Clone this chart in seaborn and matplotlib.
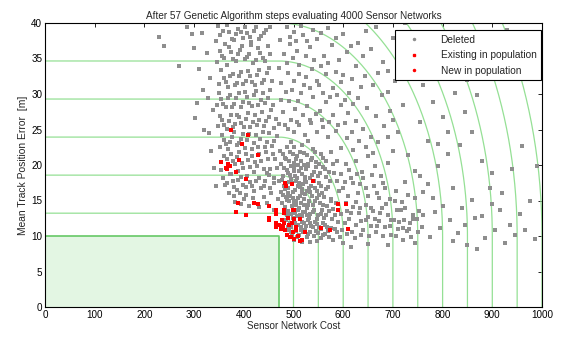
import numpy as np
import pandas as pd
import matplotlib
matplotlib.use("Agg")
import matplotlib.pyplot as plt
import seaborn as sns
from matplotlib.lines import Line2D

# ---------------- data ----------------
title = "After 57 Genetic Algorithm steps evaluating 4000 Sensor Networks"
x_label = "Sensor Network Cost"
y_label = "Mean Track Position Error  [m]"
x_ticks = [0, 100, 200, 300, 400, 500, 600, 700, 800, 900, 1000]
y_ticks = [0, 5, 10, 15, 20, 25, 30, 35, 40]

goal_cost = 470
goal_error = 10
contour_offsets = [30, 80, 130, 180, 230, 280, 330, 380, 430, 480, 530]
contour_aspect = 9.33

deleted_core = [
(478,21.5),(485,20.8),(492,21.9),(500,20.3),(508,21.2),(515,20.6),(522,21.7),(530,20.1),(537,21.0),(545,20.4),
(481,19.6),(488,18.9),(495,19.8),(503,18.4),(511,19.2),(518,18.7),(526,19.5),(533,18.2),(541,19.0),(549,18.5),
(476,17.9),(483,16.6),(490,17.6),(498,16.2),(505,17.8),(513,16.9),(520,17.3),(528,16.4),(535,17.1),(543,16.7),(551,17.5),(558,16.1),
(479,15.8),(486,15.1),(493,15.6),(501,14.8),(509,15.4),(516,14.6),(524,15.9),(531,15.0),(539,14.4),(547,15.3),(554,14.7),(562,15.5),
(482,14.1),(489,13.5),(496,14.2),(504,13.2),(512,13.9),(519,13.4),(527,14.0),(534,13.1),(542,13.7),(550,12.9),(557,13.6),(565,13.0),
(485,12.3),(492,11.9),(499,12.6),(507,11.6),(514,12.4),(521,11.8),(529,12.2),(536,11.4),(544,12.0),(552,11.3),(560,11.9),(568,11.2),
(490,10.8),(497,10.2),(505,10.7),(512,10.1),(520,10.5),(527,9.9),(534,10.6),(541,10.0),(549,10.4),(556,9.7),(564,10.3),(572,9.8),
(502,9.4),(518,9.2),(533,9.1),(548,9.3),
(488,16.0),(494,18.0),(502,19.1),(510,17.0),(517,16.1),(524,17.9),(531,16.8),(506,15.0),(513,13.0),(521,14.3),(528,12.9),
(499,13.7),(507,12.8),(515,11.2),(523,10.9),(510,20.0),(502,22.5),(495,23.2),(517,22.8),(530,23.4),(486,22.6),(540,22.3),
(555,21.5),(560,19.7),(566,18.3),(570,16.9),(575,15.2),(580,13.8),(578,12.4),(584,11.0),(590,12.0),(586,14.6),(592,16.3),
(595,13.1),(598,10.8),(603,11.9),(607,13.5),(612,12.4),(617,10.6),(620,14.1),(625,11.6),(631,13.2),(636,12.1),(640,10.9),
(645,14.3),(650,12.7),(655,11.4),(660,13.5),(666,10.5),(672,12.1),(678,14.0),(684,11.2),(690,13.0),(697,10.2),(703,12.3),
(710,11.0),(716,13.6),(722,12.2),(728,10.7),(735,11.9),(741,13.0),(748,12.4),(600,16.8),(610,15.6),(620,17.4),(630,16.0),
(640,18.2),(650,15.7),(662,17.0),(673,15.4),(685,16.7),(695,15.2),(706,16.3),(718,14.8),(612,19.3),(625,20.5),(638,19.0),
(650,21.2),(663,19.8),(676,18.5),(690,20.3),(582,18.9),(588,20.6),(575,21.8),(596,22.4),(608,23.8),(620,22.1),(570,23.9),
(585,24.8),(560,25.3),(548,24.6),(536,25.9),(524,24.2),(512,25.6),(500,24.7),(488,25.1),
]

deleted_core_2 = [
(474,20.2),(483,21.0),(491,20.5),(499,21.6),(506,20.9),(513,21.8),(521,20.0),(528,21.4),(536,20.7),(544,21.9),(552,20.2),(560,21.0),
(478,18.4),(486,19.3),(493,18.6),(500,19.7),(508,18.1),(515,19.6),(523,18.3),(530,19.9),(538,18.6),(546,19.7),(554,18.9),(563,19.4),
(474,16.2),(481,17.1),(489,16.8),(496,17.5),(503,16.5),(511,17.4),(518,16.6),(526,17.6),(533,16.2),(541,17.8),(548,16.3),(556,17.0),(565,16.6),(573,17.8),
(477,14.6),(484,15.5),(491,14.9),(498,15.3),(506,14.3),(513,15.7),(521,15.2),(529,14.4),(537,15.6),(544,14.9),(552,15.8),(559,14.4),(567,14.2),(576,14.9),
(487,13.0),(494,13.1),(501,12.3),(509,13.6),(517,12.8),(524,13.4),(532,12.5),(539,13.4),(547,12.4),(555,13.1),(562,12.6),(571,13.5),(583,12.9),
(488,11.2),(495,11.3),(503,11.9),(510,11.5),(518,12.0),(525,11.4),(533,11.9),(540,11.2),(547,11.7),(555,11.0),(563,11.6),(575,11.1),(588,10.5),
(495,10.5),(508,9.8),(516,10.8),(530,10.3),(545,10.7),(560,10.1),(570,10.7),(580,9.5),(593,9.9),
(565,20.6),(572,19.0),(580,20.2),(587,17.7),(595,18.7),(603,17.6),(606,20.2),(615,18.1),(628,18.8),(634,17.3),(645,16.8),(657,18.6),(668,16.0),(680,17.4),
(605,14.6),(615,13.3),(626,14.8),(634,13.9),(646,12.2),(655,13.9),(663,12.4),(675,13.2),(687,14.5),(696,12.2),(708,13.7),(713,12.0),(725,13.9),(732,11.0),(740,12.4),(752,13.5),(758,11.3),
(608,10.3),(623,9.7),(636,10.1),(652,10.0),(668,11.4),(680,10.0),(694,11.4),(707,10.0),(720,11.1),(737,9.8),(750,10.6),
]

deleted_band = [
(362,17.2),(370,16.1),(378,17.8),(386,16.5),(395,18.3),(404,16.9),(412,17.6),(421,16.3),(430,18.1),(440,17.0),(450,18.6),(460,17.4),
(355,19.3),(366,20.8),(374,21.6),(382,20.1),(391,21.9),(399,19.6),(408,20.7),(417,21.3),(426,19.9),(435,20.5),(444,21.8),(453,19.4),(463,20.9),
(352,22.6),(360,23.5),(369,22.2),(377,24.0),(386,22.8),(394,23.7),(403,22.4),(411,24.3),(420,23.1),(429,22.5),(438,24.6),(447,23.3),(456,22.7),(466,24.1),
(348,25.5),(357,26.4),(366,25.1),(374,27.0),(383,25.8),(391,26.7),(400,25.3),(409,27.3),(418,26.0),(427,25.6),(436,27.5),(445,26.2),(455,27.8),(464,26.5),
(346,28.4),(355,29.3),(364,28.1),(373,29.8),(381,28.6),(390,30.2),(398,28.9),(407,29.6),(416,28.3),(425,30.4),(434,29.1),(443,28.7),(453,30.6),
(350,31.4),(360,32.2),(369,31.0),(378,32.8),(387,31.6),(395,33.1),(404,31.9),(413,32.5),(422,31.2),(431,33.4),(441,32.0),(451,33.6),
(347,34.5),(357,35.3),(366,34.1),(375,35.9),(384,34.7),(393,36.2),(402,34.9),(410,35.6),(419,34.3),(428,36.5),(438,35.0),(448,36.8),
(344,37.4),(353,38.3),(362,37.1),(371,38.8),(380,37.6),(389,39.2),(398,37.9),(406,38.6),(415,37.3),(424,39.5),(434,38.1),(445,39.0),
(392,16.0),(400,15.2),(383,14.8),(410,14.2),(440,15.5),(455,16.0),(468,15.2),(372,18.8),(388,19.2),(420,19.0),(446,18.9),
(230,38.0),(240,36.8),(270,34.0),(300,36.5),(310,33.5),(305,28.8),(302,26.6),(318,30.5),(320,25.0),(330,24.5),(335,22.0),
(340,19.6),(332,32.3),(325,35.8),(315,38.6),(295,38.4),(285,39.5),(338,27.7),(328,29.4),(345,17.0),
]

deleted_band_2 = [
(358,18.1),(367,17.4),(375,18.7),(381,16.9),(389,17.9),(398,17.2),(407,18.4),(416,17.0),(425,17.8),(434,16.8),(443,17.7),(452,16.7),(461,18.2),
(360,21.2),(370,19.8),(379,20.6),(387,21.1),(396,20.3),(405,21.6),(413,19.7),(422,20.4),(431,21.5),(440,19.4),(449,20.8),(458,21.6),(467,19.6),
(356,24.2),(364,22.9),(373,23.3),(381,24.6),(390,23.1),(398,24.3),(407,23.5),(416,22.3),(424,24.2),(433,23.6),(442,22.6),(451,24.5),(461,23.4),
(352,26.9),(361,25.6),(370,26.2),(378,25.3),(387,27.1),(395,25.9),(404,26.5),(413,25.4),(422,27.0),(431,26.3),(440,25.5),(450,26.8),(460,25.2),
(351,30.1),(359,28.6),(368,29.5),(377,28.2),(385,29.4),(394,28.1),(403,30.3),(411,28.7),(420,29.8),(429,28.5),(438,30.2),(448,29.5),(458,28.4),
(354,33.4),(364,31.7),(373,32.5),(382,31.2),(391,32.6),(399,31.4),(408,33.2),(417,31.7),(426,32.7),(436,31.5),(446,32.9),(456,31.8),
(352,36.1),(361,35.1),(370,36.6),(379,34.9),(388,35.6),(397,36.8),(406,35.2),(414,36.9),(424,34.8),(433,35.8),(443,34.6),(453,35.7),
(349,39.6),(358,38.9),(367,39.7),(376,37.8),(385,38.4),(394,38.8),(403,39.5),(412,38.0),(420,38.9),(430,37.7),(440,38.6),(452,39.4),
(380,15.6),(395,14.5),(405,15.8),(418,15.3),(430,14.1),(447,14.6),(460,13.6),(470,17.8),(472,22.0),(470,25.8),(474,29.2),(470,33.7),(473,37.6),
]

deleted_mid = [
(478,27.4),(490,29.0),(503,27.9),(515,30.1),(528,28.3),(540,29.6),(553,27.6),(566,28.9),(580,27.1),(595,28.5),(610,27.3),(625,26.2),(640,25.1),(655,24.0),(670,23.2),
(475,31.5),(488,33.0),(500,31.9),(512,34.1),(525,32.4),(538,33.5),(551,31.2),(565,32.8),(580,30.9),(595,31.7),(612,30.2),(630,29.4),(648,28.0),(665,26.9),(682,25.5),
(480,35.6),(493,37.1),(507,36.0),(520,38.3),(534,36.6),(548,37.8),(562,35.3),(577,36.9),(592,34.8),(608,35.9),(625,33.9),(643,32.6),(660,31.3),(678,29.8),(695,27.6),
(486,39.4),(500,38.7),(515,39.6),(540,39.0),(570,39.3),(600,38.4),(630,37.2),(655,36.3),(680,34.5),(705,31.8),(720,28.5),(710,24.6),(700,22.0),(730,21.4),(745,19.2),(725,17.6),(760,16.2),(745,15.3),
(483,25.7),(495,26.4),(507,26.0),(520,27.0),(533,26.4),(545,27.2),(558,26.4),(571,26.0),(590,25.6),(603,25.9),(617,24.6),(632,23.4),(645,22.6),(660,21.7),
(484,30.3),(497,30.6),(509,29.0),(521,31.3),(534,30.8),(547,31.9),(559,30.1),(573,29.6),(588,29.9),(603,29.1),(620,28.6),
(486,34.3),(498,35.1),(511,32.8),(526,35.3),(541,34.8),(555,33.9),(570,34.3),(585,33.1),(600,32.7),(617,32.1),(635,31.0),
(492,38.0),(505,37.5),(527,37.4),(555,38.6),(585,37.9),(615,36.7),(640,35.3),(670,33.0),(690,30.3),(700,26.3),(690,24.0),
]

deleted_sparse = [
(770,38.4),(790,35.0),(815,33.2),(740,36.3),(760,31.2),(780,28.9),(800,26.7),(825,30.1),(845,27.4),(870,29.8),(860,24.6),(835,22.8),(810,21.5),(790,19.8),(770,23.4),(755,26.1),
(880,20.6),(900,18.9),(920,16.1),(940,19.4),(960,22.7),(975,15.0),(990,19.8),(955,13.1),(935,11.5),(945,10.2),(965,10.8),(985,9.6),
(780,15.4),(800,14.2),(820,16.7),(840,13.9),(860,15.1),(880,12.8),(900,14.5),(905,10.9),(885,9.7),(870,8.2),(850,8.7),(830,10.4),(815,12.3),(795,11.1),(775,9.9),(760,12.9),(785,13.4),(820,9.3),(845,11.6),(865,12.6),(895,16.8),(915,13.7),(925,9.0),
(600,9.0),(615,8.5),(650,8.9),(690,8.7),(720,9.4),(745,9.0),(705,14.9),(730,15.8),(755,18.4),(770,17.3),(790,22.9),(810,24.7),(850,32.0),(880,35.5),(905,37.2),(930,39.0),(745,32.8),(720,35.2),(700,37.9),(690,33.3),(665,39.5),(645,38.9),(725,40.0),
]

existing_pop = [
(375,24.9),(409,24.2),(396,23.0),(429,21.4),(390,20.7),(355,20.4),(369,20.2),(372,19.9),(364,19.6),(367,19.4),(384,19.0),
(404,18.0),(483,17.4),(496,17.3),(485,17.0),(540,17.7),(389,14.7),(420,14.6),(429,14.5),(384,13.4),(404,12.9),
(450,14.2),(450,12.6),(450,12.3),(465,13.7),(465,13.1),(465,11.9),(465,11.2),(481,13.7),(481,13.2),(498,13.7),(501,13.7),
]

new_pop = [
(470,11.6),(474,11.0),(478,11.4),(482,10.8),(486,10.2),(490,11.5),(494,9.8),(498,10.6),(502,9.6),(506,11.2),(510,10.0),
(514,12.4),(518,9.4),(476,12.2),(488,12.6),(496,11.9),(492,9.9),(590,14.5),(590,13.6),(606,14.5),(555,11.1),(573,10.9),
(610,11.0),(524,10.6),(513,9.3),(505,10.9),(480,11.9),(500,12.4),
]

# ---------------- build table ----------------
deleted_all = deleted_core + deleted_core_2 + deleted_band + deleted_band_2 + deleted_mid + deleted_sparse
rows = []
for name, pts in [("Deleted", deleted_all),
                  ("Existing in population", existing_pop),
                  ("New in population", new_pop)]:
    for cx, cy in pts:
        rows.append({"cost": cx, "error": cy, "group": name})
df = pd.DataFrame(rows)

sns.set_style("white")
plt.rcParams["font.family"] = ["Liberation Sans", "DejaVu Sans"]

fig = plt.figure(figsize=(5.61, 3.38), dpi=100)
ax = fig.add_axes([45 / 561, 1 - 307 / 338, (542 - 45) / 561, (307 - 23) / 338])

# goal region
ax.fill_between([0, goal_cost], 0, goal_error, color="#e3f6e3", zorder=0, linewidth=0)

# contours: rounded rectangles around the goal corner
line_col = "#95e095"
t = np.linspace(0, np.pi / 2, 200)
for d in contour_offsets:
    b = d / contour_aspect
    xs = np.concatenate([[0], goal_cost + d * np.sin(t), [goal_cost + d]])
    ys = np.concatenate([[goal_error + b], goal_error + b * np.cos(t), [0]])
    ax.plot(xs, ys, color=line_col, lw=0.9, zorder=1)
ax.plot([0, goal_cost, goal_cost], [goal_error, goal_error, 0], color="#66c866", lw=1.2, zorder=1)

deleted = df[df.group == "Deleted"]
sns.scatterplot(data=deleted, x="cost", y="error", color="#8e8e8e", marker="s",
                s=5, linewidth=0, ax=ax, zorder=2, legend=False)
sns.scatterplot(data=df[df.group == "Existing in population"], x="cost", y="error",
                color="#ff0000", marker="s", s=5, linewidth=0, ax=ax, zorder=3, legend=False)
sns.scatterplot(data=df[df.group == "New in population"], x="cost", y="error",
                color="#ff0000", marker="s", s=5, linewidth=0, ax=ax, zorder=3, legend=False)

ax.set_xlim(0, 1000)
ax.set_ylim(0, 40)
ax.set_xticks(x_ticks)
ax.set_yticks(y_ticks)
ax.tick_params(direction="in", top=True, right=True, length=3, width=0.6,
               labelsize=7.1, colors="black", pad=2)
for s in ax.spines.values():
    s.set_color("black")
    s.set_linewidth(0.8)
ax.set_xlabel(x_label, fontsize=7.1, labelpad=1)
ax.set_ylabel(y_label, fontsize=7.4, labelpad=2)
ax.set_title(title, fontsize=7.2, pad=3)

handles = [
    Line2D([], [], ls="none", marker=".", color="#8e8e8e", markersize=3),
    Line2D([], [], ls="none", marker="s", color="#ff0000", markersize=1.8),
    Line2D([], [], ls="none", marker=".", color="#ff0000", markersize=3),
]
leg = ax.legend(handles, ["Deleted", "Existing in population", "New in population"],
                loc="upper right", bbox_to_anchor=(0.998, 0.975), borderaxespad=0,
                fontsize=7.3, frameon=True,
                fancybox=False, framealpha=1, edgecolor="black", borderpad=0.45,
                labelspacing=0.55, handletextpad=1.2, handlelength=2.8)
leg.get_frame().set_linewidth(0.8)

fig.savefig("out.png", dpi=100, facecolor="white")
